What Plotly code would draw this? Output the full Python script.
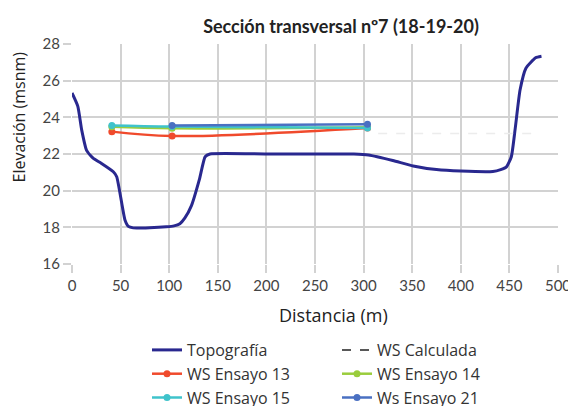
import plotly.graph_objects as go

# Topografía
topo_x = [0, 6, 10, 15, 21.7, 30, 42.5, 46, 54.5, 58, 63, 80, 97, 105, 111, 116, 123, 131, 137, 142, 200, 250, 290, 305, 330, 351, 375, 400, 433, 441, 447, 452, 456, 461, 467, 477, 483]
topo_y = [25.33, 24.6, 23.3, 22.2, 21.77, 21.5, 21.03, 20.76, 18.4, 18.05, 17.97, 17.98, 18.03, 18.08, 18.2, 18.5, 19.2, 20.6, 21.85, 22.0, 22.0, 22.0, 22.0, 21.95, 21.65, 21.35, 21.15, 21.07, 21.05, 21.15, 21.3, 21.85, 23.4, 25.5, 26.68, 27.25, 27.33]

ws_x = [41, 103, 304]
ws13_y = [23.22, 22.98, 23.42]
ws14_y = [23.48, 23.40, 23.46]
ws15_y = [23.56, 23.50, 23.42]
ws21_x = [103, 304]
ws21_y = [23.56, 23.62]

calc_x = [315, 480]
calc_y = [23.12, 23.12]

x_ticks = [0, 50, 100, 150, 200, 250, 300, 350, 400, 450, 500]
y_ticks = [16, 18, 20, 22, 24, 26, 28]

FONT = "Lato"
FONT2 = "Open Sans"
W, H = 568, 398
L, T, PW, PH = 64, 36, 486, 220
fig = go.Figure()

fig.add_trace(go.Scatter(x=topo_x, y=topo_y, mode="lines", name="Topografía",
                         line=dict(color="#29288f", width=3, shape="spline", smoothing=0.5)))
fig.add_trace(go.Scatter(x=calc_x, y=calc_y, mode="lines", name="WS Calculada", showlegend=False,
                         line=dict(color="#ececec", width=1.5, dash="dash")))
fig.add_trace(go.Scatter(x=[None], y=[None], mode="lines", name="WS Calculada",
                         line=dict(color="#222222", width=1.5, dash="dash")))
fig.add_trace(go.Scatter(x=ws_x, y=ws13_y, mode="lines+markers", name="WS Ensayo 13",
                         line=dict(color="#f04a2c", width=2.5, shape="spline"),
                         marker=dict(size=7, color="#f04a2c")))
fig.add_trace(go.Scatter(x=ws_x, y=ws14_y, mode="lines+markers", name="WS Ensayo 14",
                         line=dict(color="#9acd3c", width=2.5, shape="spline"),
                         marker=dict(size=7, color="#9acd3c")))
fig.add_trace(go.Scatter(x=ws_x, y=ws15_y, mode="lines+markers", name="WS Ensayo 15",
                         line=dict(color="#3fc3cb", width=2.5, shape="spline"),
                         marker=dict(size=7, color="#3fc3cb")))
fig.add_trace(go.Scatter(x=ws21_x, y=ws21_y, mode="lines+markers", name="Ws Ensayo 21",
                         line=dict(color="#4a70c2", width=2.5),
                         marker=dict(size=7, color="#4a70c2")))

fig.update_layout(
    width=W, height=H,
    margin=dict(l=L, r=W - L - PW, t=T, b=H - T - PH, autoexpand=False),
    paper_bgcolor="white", plot_bgcolor="white",
    font=dict(family=FONT, size=15, color="#333333"),
    title=dict(text="<b>Sección transversal nº7 (18-19-20)</b>", x=333/W, xanchor="center",
               xref="container", y=1-19/H, yanchor="middle", yref="container",
               font=dict(family=FONT, size=18, color="#222222")),
    xaxis=dict(range=[0, 500], tickvals=x_ticks, showgrid=True, gridcolor="#d2d2d2", gridwidth=2,
               ticks="outside", ticklen=8, tickwidth=2, tickcolor="#d2d2d2", zeroline=False,
               showline=False, tickfont=dict(size=15, color="#444444")),
    yaxis=dict(range=[16, 28], tickvals=y_ticks, showgrid=True, gridcolor="#d2d2d2", gridwidth=2,
               ticks="outside", ticklen=8, tickwidth=2, tickcolor="#d2d2d2", zeroline=False,
               showline=False, tickfont=dict(size=15, color="#444444")),
    legend=dict(orientation="h", x=(147-72)/486, xanchor="left", xref="paper",
                y=1-325/H, yanchor="top", yref="container",
                entrywidth=145, entrywidthmode="pixels", traceorder="normal",
                font=dict(family=FONT2, size=16, color="#333333"), bgcolor="rgba(0,0,0,0)"),
    showlegend=True,
    annotations=[
        dict(text="Distancia (m)", xref="paper", yref="paper",
             x=(325 - L) / PW, y=1 - (307 - T) / PH, xanchor="center", yanchor="middle",
             showarrow=False, font=dict(family=FONT2, size=18, color="#222222")),
        dict(text="Elevación (msnm)", xref="paper", yref="paper", textangle=-90,
             x=(10 - L) / PW, y=1 - (109.5 - T) / PH, xanchor="center", yanchor="middle",
             showarrow=False, font=dict(family=FONT2, size=16, color="#222222")),
    ],
)

fig.write_html("out.html")
